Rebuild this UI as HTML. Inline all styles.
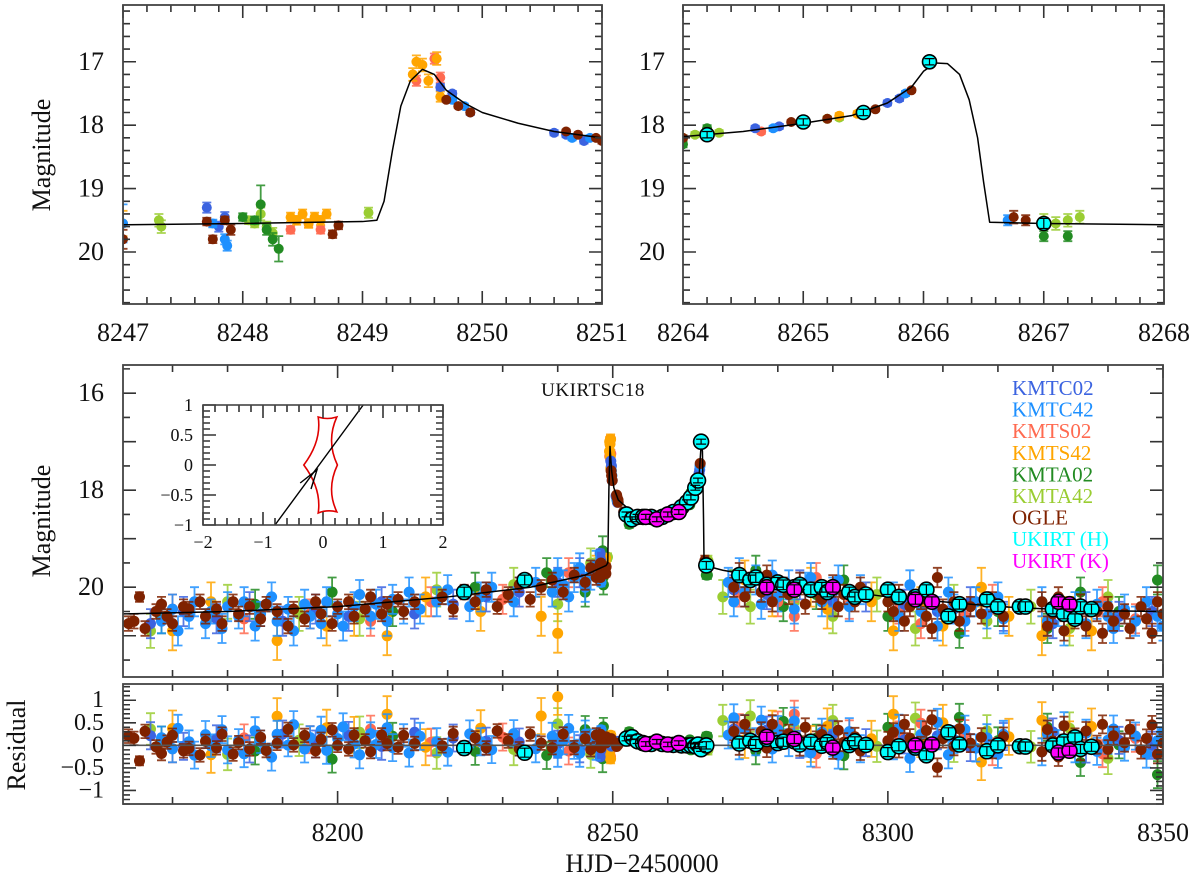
<!DOCTYPE html>
<html><head><meta charset="utf-8"><style>
html,body{margin:0;padding:0;background:#fff;}
svg{display:block;font-family:"Liberation Serif",serif;}
</style></head><body>
<svg id="chart" width="1200" height="880" xmlns="http://www.w3.org/2000/svg"></svg>
<script>
// ---------- DATA ----------
const seriesNames = ["KMTA42","KMTA02","KMTS02","KMTS42","KMTC02","KMTC42","OGLE","UKIRT (H)","UKIRT (K)"];
const legendOrder = ["KMTC02","KMTC42","KMTS02","KMTS42","KMTA02","KMTA42","OGLE","UKIRT (H)","UKIRT (K)"];
const seriesColors = {"KMTC02":"#3b63e0","KMTC42":"#1e90ff","KMTS02":"#ff6a50","KMTS42":"#ffa500","KMTA02":"#228b22","KMTA42":"#9acd32","OGLE":"#7f2200","UKIRT (H)":"#00ffff","UKIRT (K)":"#ff00ff"};

const kmtc02 = [[8166,20.75,.3],[8172,20.5,.3],[8178,20.65,.3],[8184,20.4,.3],[8190,20.7,.3],[8196,20.45,.3],[8202,20.6,.3],[8208,20.3,.3],[8214,20.55,.3],[8221,20.35,.3],[8227,20.2,.3],[8233,20.1,.3],[8240,19.9,.3],[8244,19.7,.3],
[8247.7,19.3,.08],[8247.8,19.6,.08],[8247.85,19.45,.08],[8249.65,17.4,.05],[8249.75,17.5,.04],[8249.9,17.8,.04],[8250.6,18.12,.04],[8250.7,18.15,.04],[8250.85,18.25,.04],[8264.6,18.05,.04],[8264.8,18.02,.04],[8265.7,17.65,.04],[8265.8,17.58,.04],
[8272,20.05,.3],[8278,20.15,.3],[8284,19.95,.3],[8290,20.3,.3],[8296,20.2,.3],[8303,20.35,.3],[8309,20.5,.3],[8315,20.3,.3],[8321,20.6,.3],[8330,20.75,.3],[8336,20.4,.3],[8342,20.6,.3],[8348,20.5,.3]];
const kmtc42 = [[8168,20.7,.25],[8170,20.45,.3],[8171,20.9,.3],[8173,20.6,.25],[8174,20.3,.3],[8176,20.75,.3],[8177,20.5,.25],[8179,20.85,.3],[8180,20.4,.3],[8182,20.6,.25],[8183,20.3,.3],[8185,20.8,.3],[8186,20.55,.25],[8188,20.2,.3],[8189,20.7,.3],[8191,20.45,.25],[8192,20.9,.3],[8194,20.35,.3],[8195,20.6,.25],[8197,20.75,.3],[8198,20.3,.3],[8200,20.55,.25],[8201,20.8,.3],[8203,20.4,.3],[8204,20.15,.3],[8206,20.6,.25],[8207,20.35,.3],[8209,20.7,.3],[8210,20.25,.3],[8212,20.5,.25],[8213,20.1,.3],[8215,20.45,.3],[8218,20.3,.3],[8220,20.05,.3],[8224,20.4,.3],[8226,20.2,.3],[8228,20.0,.3],[8232,20.3,.3],[8236,19.9,.3],[8239,20.1,.3],[8240,19.7,.3],[8241,19.95,.3],[8242,20.2,.3],[8243,19.8,.3],[8244,19.6,.3],[8245,20.0,.3],[8246,19.75,.3],[8247,19.55,.3],
[8247.75,19.55,.06],[8247.85,19.8,.08],[8247.87,19.9,.08],[8249.75,17.6,.05],[8249.85,17.7,.04],[8250.75,18.2,.04],[8250.9,18.2,.04],[8252,18.45,.06],[8254,18.55,.06],[8262,18.4,.06],[8264.75,18.05,.04],[8265.85,17.5,.04],[8266.7,19.5,.08],
[8271,19.9,.3],[8272,20.3,.3],[8273,19.7,.3],[8274,20.1,.3],[8276,19.85,.3],[8277,20.35,.3],[8279,19.75,.3],[8280,20.2,.3],[8282,19.95,.3],[8283,20.45,.3],[8285,20.0,.3],[8286,19.8,.3],[8288,20.3,.3],[8290,20.1,.3],[8291,19.85,.3],[8293,20.4,.3],[8295,20.05,.3],
[8301,20.2,.3],[8302,20.6,.3],[8304,19.95,.3],[8306,20.5,.3],[8307,20.25,.3],[8309,20.8,.3],[8311,20.1,.3],[8312,20.45,.3],[8314,20.7,.3],[8316,20.3,.3],[8318,20.55,.3],[8320,20.2,.3],[8321,20.65,.3],
[8328,20.3,.3],[8329,20.7,.3],[8331,20.5,.3],[8332,20.9,.3],[8334,20.4,.3],[8336,20.75,.3],[8338,20.35,.3],[8340,20.6,.3],[8341,20.85,.3],[8343,20.45,.3],[8345,20.7,.3],[8347,20.3,.3],[8349,20.6,.3],[8350,20.8,.3]];
const kmts02 = [[8170,20.45,.3],[8183,20.65,.3],[8195,20.55,.3],[8206,20.7,.3],[8217,20.3,.3],[8230,20.25,.3],[8242,19.7,.3],
[8248.4,19.65,.06],[8248.55,19.55,.06],[8248.65,19.65,.06],[8249.45,17.3,.08],[8249.6,16.95,.08],[8249.65,17.25,.08],[8264.65,18.1,.04],[8265.5,17.8,.04],
[8273,20.1,.3],[8280,20.3,.3],[8283,20.6,.3],[8287,19.8,.3],[8293,20.35,.3],[8302,20.45,.3],[8306,20.75,.3],[8314,20.6,.3],[8319,20.25,.3],[8332,20.55,.3],[8339,20.3,.3],[8345,20.65,.3]];
const kmts42 = [[8170,20.9,.4],[8177,20.3,.4],[8189,21.1,.4],[8198,20.8,.4],[8203,20.6,.4],[8209,21.0,.4],[8216,20.2,.4],[8226,20.5,.4],[8237,20.6,.4],[8240,20.95,.4],[8247,19.55,.2],
[8248.4,19.45,.07],[8248.45,19.5,.07],[8248.5,19.4,.07],[8248.55,19.55,.07],[8248.6,19.45,.07],[8248.65,19.5,.07],[8248.7,19.4,.07],[8249.42,17.2,.1],[8249.45,17.0,.1],[8249.5,17.05,.1],[8249.55,17.3,.1],[8249.62,16.95,.1],[8249.65,17.55,.08],[8265.3,17.85,.04],[8265.45,17.82,.04],
[8274,19.85,.4],[8279,20.2,.4],[8286,20.0,.4],[8289,20.45,.4],[8297,20.3,.4],[8301,20.9,.4],[8306,20.4,.4],[8310,20.8,.4],[8317,20.0,.4],[8322,20.6,.4],[8328,21.0,.4],[8333,20.6,.4],[8337,20.9,.4]];
const kmta02 = [[8168,20.65,.3],[8185,20.35,.3],[8199,20.1,.3],[8210,20.5,.3],[8225,20.0,.3],[8238,19.7,.3],[8245,20.1,.3],
[8248.0,19.45,.06],[8248.1,19.5,.06],[8248.15,19.25,.3],[8248.2,19.65,.08],[8248.25,19.8,.1],[8248.3,19.95,.2],[8253,18.7,.08],[8264.0,18.3,.05],[8264.2,18.05,.05],[8267.0,19.75,.08],[8267.2,19.75,.08],
[8272,19.95,.3],[8276,19.65,.3],[8281,20.4,.3],[8287,20.15,.3],[8292,19.85,.3],[8300,20.6,.3],[8307,20.25,.3],[8313,20.95,.3],[8320,20.5,.3],[8329,20.85,.3],[8335,20.1,.3],[8342,20.5,.3],[8349,19.85,.3]];
const kmta42 = [[8166,20.9,.35],[8180,20.3,.35],[8193,20.55,.35],[8204,20.65,.35],[8218,20.05,.35],[8232,19.95,.35],[8240,20.35,.35],[8246,19.5,.3],
[8247.3,19.5,.1],[8247.32,19.6,.1],[8248.05,19.5,.06],[8248.1,19.55,.06],[8248.15,19.4,.1],[8248.2,19.6,.08],[8248.25,19.7,.08],[8249.05,19.38,.08],[8264.0,18.2,.04],[8264.1,18.15,.04],[8264.3,18.12,.04],[8265.2,17.9,.04],[8265.3,17.88,.04],[8267.0,19.5,.1],[8267.1,19.55,.1],[8267.2,19.5,.1],[8267.3,19.45,.1],
[8270,20.2,.35],[8275,20.4,.35],[8283,20.3,.35],[8290,20.6,.35],[8298,20.15,.35],[8305,20.85,.35],[8312,20.3,.35],[8318,20.7,.35],[8326,20.4,.35],[8333,20.85,.35],[8340,20.2,.35]];
const ogle = [[8162,20.75,.15],[8163,20.7,.15],[8164,20.2,.1],[8165,20.85,.15],[8167,20.5,.15],[8168,20.35,.15],[8169,20.6,.15],[8170,20.75,.15],[8172,20.4,.15],[8173,20.45,.15],[8175,20.3,.15],[8176,20.6,.15],[8178,20.45,.15],[8179,20.75,.15],[8181,20.3,.15],[8182,20.55,.15],[8184,20.4,.15],[8186,20.65,.15],[8187,20.35,.15],[8189,20.5,.15],[8191,20.8,.15],[8192,20.45,.15],[8194,20.65,.15],[8196,20.3,.15],[8197,20.55,.15],[8199,20.75,.15],[8200,20.4,.15],[8202,20.3,.15],[8203,20.6,.15],[8205,20.45,.15],[8206,20.2,.15],[8208,20.55,.15],[8209,20.35,.15],[8211,20.25,.15],[8212,20.5,.15],[8214,20.3,.15],[8219,20.2,.15],[8221,20.45,.15],[8223,20.1,.15],[8225,20.3,.15],[8227,20.05,.15],[8229,20.4,.15],[8231,20.15,.15],[8233,19.95,.15],[8235,20.25,.15],[8237,20.0,.15],[8239,19.85,.15],[8241,20.1,.15],[8243,19.75,.15],[8245,19.9,.15],[8246,19.6,.15],[8247,19.8,.15],
[8247.7,19.52,.06],[8247.75,19.8,.06],[8247.85,19.5,.06],[8247.9,19.65,.08],[8248.75,19.72,.06],[8248.8,19.58,.06],[8249.7,17.6,.03],[8249.8,17.7,.03],[8249.9,17.8,.03],[8250.7,18.1,.03],[8250.8,18.15,.03],[8250.95,18.2,.03],
[8251,18.25,.04],[8252,18.45,.04],[8253,18.5,.04],[8254,18.55,.04],[8255,18.6,.04],[8256,18.55,.04],[8257,18.6,.04],[8258,18.55,.04],[8259,18.5,.04],[8260,18.5,.04],[8261,18.45,.04],[8262,18.4,.04],[8263,18.3,.04],[8264,18.2,.04],
[8264.9,17.95,.03],[8265.2,17.9,.03],[8265.6,17.75,.03],[8265.9,17.45,.03],[8266.75,19.45,.1],[8266.85,19.5,.08],
[8272,20.0,.2],[8273,19.7,.2],[8274,20.2,.2],[8275,19.9,.2],[8277,20.1,.2],[8278,19.75,.2],[8279,20.3,.2],[8281,20.0,.2],[8282,20.15,.2],[8284,19.9,.2],[8285,20.35,.2],[8287,20.1,.2],[8288,20.25,.2],[8290,19.95,.2],[8291,20.4,.2],[8292,20.15,.2],[8294,20.3,.2],[8295,20.0,.2],[8300,20.3,.2],[8301,20.5,.2],[8302,20.15,.2],[8303,20.7,.2],[8304,20.4,.2],[8306,20.25,.2],[8307,20.6,.2],[8308,20.85,.2],[8309,19.8,.2],[8310,20.45,.2],[8312,20.3,.2],[8313,20.7,.2],[8315,20.4,.2],[8317,20.55,.2],[8319,20.3,.2],[8321,20.6,.2],[8328,20.3,.2],[8329,20.8,.2],[8330,20.55,.2],[8331,20.2,.2],[8332,20.9,.2],[8333,20.45,.2],[8334,20.65,.2],[8335,20.35,.2],[8336,20.8,.2],[8338,20.5,.2],[8339,20.95,.2],[8340,20.4,.2],[8341,20.7,.2],[8343,20.55,.2],[8344,20.85,.2],[8346,20.4,.2],[8347,20.65,.2],[8348,20.95,.2],[8349,20.3,.2],[8350,20.55,.2]];
const ukirtH = [[8223,20.1,.1],[8234,19.85,.1],[8252.5,18.5,.05],[8253.5,18.6,.05],[8254.5,18.55,.05],[8255.5,18.55,.05],[8257,18.55,.05],[8259,18.55,.05],[8261,18.45,.05],[8262.5,18.35,.05],[8263.5,18.25,.05],[8264.2,18.15,.05],[8265,17.95,.05],[8265.5,17.8,.05],[8266.05,17.0,.05],[8267,19.55,.08],
[8273,19.75,.1],[8275,19.85,.1],[8276,19.8,.1],[8278,19.95,.1],[8280,19.9,.1],[8281,19.95,.1],[8283,20.0,.1],[8284,19.95,.1],[8286,20.05,.1],[8288,20.0,.1],[8289,20.1,.1],[8293,20.1,.1],[8294,20.2,.1],[8296,20.15,.1],[8300,20.05,.1],[8302,20.2,.1],[8305,20.2,.1],[8307,20.05,.1],[8311,20.6,.1],[8313,20.35,.1],[8318,20.25,.1],[8320,20.4,.1],[8324,20.4,.1],[8325,20.4,.1],[8330,20.45,.1],[8332,20.55,.1],[8334,20.65,.1],[8335,20.4,.1],[8337,20.45,.1]];
const ukirtK = [[8256,18.55,.05],[8258,18.6,.05],[8260,18.5,.05],[8262,18.45,.05],[8278,20.0,.1],[8283,20.05,.1],[8290,20.0,.1],[8305,20.25,.1],[8308,20.3,.1],[8331,20.3,.1],[8333,20.35,.1]];

// model curves
const modelT   = [8161,8180,8200,8220,8235,8245,8248.8,8249.1,8249.3,8249.5,8249.8,8250.2,8251,8253,8256,8259,8262,8264,8265,8265.7,8266.1,8266.3,8266.5,8266.6,8270,8280,8290,8300,8310,8320,8335,8350];
const modelMag = [20.55,20.5,20.4,20.2,20.0,19.75,19.55,19.5,18.0,17.1,17.6,17.95,18.2,18.4,18.52,18.52,18.4,18.2,18.0,17.7,17.0,17.2,18.6,19.55,19.65,19.85,20.05,20.2,20.3,20.4,20.48,20.5];
const zoomAModelT   = [8247,8248,8249,8249.12,8249.18,8249.25,8249.32,8249.4,8249.5,8249.6,8249.7,8249.85,8250,8250.3,8250.6,8251];
const zoomAModelMag = [19.57,19.55,19.52,19.5,19.2,18.4,17.7,17.3,17.12,17.2,17.45,17.65,17.8,17.97,18.1,18.2];
const zoomBModelT   = [8264,8264.5,8265,8265.4,8265.7,8265.9,8266.0,8266.1,8266.2,8266.3,8266.38,8266.45,8266.5,8266.55,8267,8268];
const zoomBModelMag = [18.18,18.1,17.97,17.85,17.65,17.4,17.15,17.02,17.03,17.2,17.6,18.2,18.9,19.53,19.55,19.57];

// axis tick labels
const mainXTicks = [8200,8250,8300,8350];
const mainYTicks = [16,18,20];
const resYTicks = [1,0.5,0,-0.5,-1];
const zoomAXTicks = [8247,8248,8249,8250,8251];
const zoomBXTicks = [8264,8265,8266,8267,8268];
const zoomYTicks = [17,18,19,20];
const insetXTicks = [-2,-1,0,1,2];
const insetYTicks = [1,0.5,0,-0.5,-1];

const seriesData = {"KMTA42":kmta42,"KMTA02":kmta02,"KMTS02":kmts02,"KMTS42":kmts42,"KMTC02":kmtc02,"KMTC42":kmtc42,"OGLE":ogle,"UKIRT (H)":ukirtH,"UKIRT (K)":ukirtK};

// ---------- HELPERS ----------
const NS = "http://www.w3.org/2000/svg";
const svg = document.getElementById("chart");
function mk(tag, attrs, parent){
  const e = document.createElementNS(NS, tag);
  for (const k in attrs) e.setAttribute(k, attrs[k]);
  (parent||svg).appendChild(e);
  return e;
}
function interp(ts, ms, t){
  if (t <= ts[0]) return ms[0];
  for (let i=1;i<ts.length;i++){ if (t <= ts[i]) { const f=(t-ts[i-1])/(ts[i]-ts[i-1]); return ms[i-1]+f*(ms[i]-ms[i-1]); } }
  return ms[ms.length-1];
}
function modelAt(t){
  if (t>=8247 && t<=8251) return interp(zoomAModelT, zoomAModelMag, t);
  if (t>=8264 && t<=8268) return interp(zoomBModelT, zoomBModelMag, t);
  return interp(modelT, modelMag, t);
}
function slug(s){ return s.toLowerCase().replace(/[^a-z0-9]+/g,'-').replace(/-$/,''); }

const panels = {
  zoomA:{x0:123,x1:602,y0:5,y1:304,tMin:8247,tMax:8251,mMin:16.105,mMax:20.82},
  zoomB:{x0:683,x1:1164,y0:5,y1:304,tMin:8264,tMax:8268,mMin:16.105,mMax:20.82},
  main:{x0:123,x1:1163,y0:365,y1:677,tMin:8161,tMax:8350,mMin:15.42,mMax:21.85},
  resid:{x0:123,x1:1163,y0:684,y1:804,tMin:8161,tMax:8350,mMin:1.36,mMax:-1.3}
};
function sx(p,t){ return p.x0 + (t-p.tMin)/(p.tMax-p.tMin)*(p.x1-p.x0); }
function sy(p,m){ return p.y0 + (m-p.mMin)/(p.mMax-p.mMin)*(p.y1-p.y0); }

const defs = mk("defs",{});
for (const k in panels){
  const p = panels[k];
  const cp = mk("clipPath",{id:"clip-"+k},defs);
  mk("rect",{x:p.x0,y:p.y0,width:p.x1-p.x0,height:p.y1-p.y0},cp);
}

function drawTicks(p, g, xMajor, xMinor, yMajor, yMinor){
  let d = "";
  const span=(a,b,s)=>{const r=[];for(let v=Math.ceil(a/s-1e-9)*s; v<=b+1e-9; v+=s) r.push(v); return r;};
  const tLo=Math.min(p.tMin,p.tMax), tHi=Math.max(p.tMin,p.tMax);
  span(tLo,tHi,xMinor).forEach(v=>{ const x=sx(p,v); const isMaj=Math.abs(v/xMajor-Math.round(v/xMajor))<1e-6; const L=isMaj?13:7;
    d+=`M${x},${p.y1}v${-L}M${x},${p.y0}v${L}`; });
  const mLo=Math.min(p.mMin,p.mMax), mHi=Math.max(p.mMin,p.mMax);
  span(mLo,mHi,yMinor).forEach(v=>{ const y=sy(p,v); const isMaj=Math.abs(v/yMajor-Math.round(v/yMajor))<1e-6; const L=isMaj?13:7;
    d+=`M${p.x0},${y}h${L}M${p.x1},${y}h${-L}`; });
  const t = mk("path",{d:d,stroke:"#333","stroke-width":1.6,fill:"none"},g);
  
  
}
function frame(p,g,name){
  const r = mk("rect",{x:p.x0,y:p.y0,width:p.x1-p.x0,height:p.y1-p.y0,fill:"none",stroke:"#444","stroke-width":1.8},g);
  
  
}
function drawModel(key,p,g,ts,ms){
  let d="";
  for (let i=0;i<ts.length;i++){ d+=(i?"L":"M")+sx(p,ts[i]).toFixed(2)+","+sy(p,ms[i]).toFixed(2); }
  const a = mk("path",{d:d,stroke:"#000","stroke-width":1.5,fill:"none","stroke-linejoin":"round","clip-path":`url(#clip-${key})`},g);
  
  
}
function drawPoints(p,key,g,name,resid,rad){
  const col = seriesColors[name];
  const isUk = name.startsWith("UKIRT");
  const grp = mk("g",{"clip-path":`url(#clip-${key})`},g);
  
  
  const data = seriesData[name];
  let ed="";
  const pts=[];
  data.forEach(([t,m,e])=>{
    if (t<p.tMin-0.5 || t>p.tMax+0.5) return;
    const v = resid ? (m-modelAt(t)) : m;
    const x=sx(p,t), y=sy(p,v);
    const y1=sy(p,v-e), y2=sy(p,v+e);
    const cw=isUk?5:4.5;
    ed+=`M${x.toFixed(1)},${y1.toFixed(1)}V${y2.toFixed(1)}M${(x-cw).toFixed(1)},${y1.toFixed(1)}h${2*cw}M${(x-cw).toFixed(1)},${y2.toFixed(1)}h${2*cw}`;
    pts.push([x,y]);
  });
  const eb = mk("path",{d:ed,stroke:isUk?"#000":col,"stroke-width":1.8,fill:"none",opacity:isUk?1:0.85},grp);
  
  
  pts.forEach(([x,y])=>{
    const c = mk("circle",{cx:x.toFixed(1),cy:y.toFixed(1),r:isUk?rad+2:rad,fill:col,stroke:isUk?"#000":"none","stroke-width":isUk?1.6:0},grp);
    
    
  });
  if (isUk){
    const eb2 = mk("path",{d:ed,stroke:"#000","stroke-width":1.2,fill:"none"},grp);
    
    
  }
}
function label(x,y,txt,size,anchor,name,extra){
  const t = mk("text",Object.assign({x:x,y:y,"font-size":size,"text-anchor":anchor||"middle",fill:"#111"},extra||{}));
  t.textContent = txt;
  
  
  return t;
}

function buildPanel(key, opts){
  const p = panels[key];
  const g = mk("g",{});
  
  
  const order = ["KMTA42","KMTA02","KMTS02","KMTS42","KMTC02","KMTC42","OGLE"];
  order.forEach(n=>drawPoints(p,key,g,n,opts.resid,opts.rad));
  if (opts.resid){
    const z = mk("line",{x1:p.x0,x2:p.x1,y1:sy(p,0),y2:sy(p,0),stroke:"#555","stroke-width":1.6},g);
    
    
  } else {
    drawModel(key,p,g,opts.mt,opts.mm);
  }
  drawPoints(p,key,g,"UKIRT (H)",opts.resid,opts.rad);
  drawPoints(p,key,g,"UKIRT (K)",opts.resid,opts.rad);
  drawTicks(p,g,opts.xMaj,opts.xMin,opts.yMaj,opts.yMin);
  frame(p,g,key+'-frame');
  return g;
}
buildPanel("zoomA",{mt:zoomAModelT,mm:zoomAModelMag,xMaj:1,xMin:0.2,yMaj:1,yMin:0.2,rad:5});
buildPanel("zoomB",{mt:zoomBModelT,mm:zoomBModelMag,xMaj:1,xMin:0.2,yMaj:1,yMin:0.2,rad:5});
buildPanel("main",{mt:modelT,mm:modelMag,xMaj:50,xMin:10,yMaj:1,yMin:0.5,rad:5.5});
buildPanel("resid",{resid:true,xMaj:50,xMin:10,yMaj:0.5,yMin:0.1,rad:5.5});

zoomAXTicks.forEach(v=>label(sx(panels.zoomA,v),341,String(v),26,"middle","x-tick-label-zoom-a"));
zoomBXTicks.forEach(v=>label(sx(panels.zoomB,v),341,String(v),26,"middle","x-tick-label-zoom-b"));
zoomYTicks.forEach(v=>{ label(104,sy(panels.zoomA,v)+8,String(v),26,"end","y-tick-label-zoom-a"); label(665,sy(panels.zoomB,v)+8,String(v),26,"end","y-tick-label-zoom-b"); });
mainYTicks.forEach(v=>label(104,sy(panels.main,v)+8,String(v),26,"end","y-tick-label-main"));
resYTicks.forEach(v=>label(104,sy(panels.resid,v)+7,v<0?"\u2212"+String(-v):String(v),24,"end","y-tick-label-residual"));
mainXTicks.forEach(v=>label(sx(panels.main,v),841,String(v),26,"middle","x-tick-label-main"));

label(0,0,"Magnitude",26,"middle","y-axis-title-zoom",{transform:"translate(50,155) rotate(-90)"});
label(0,0,"Magnitude",26,"middle","y-axis-title-main",{transform:"translate(50,521) rotate(-90)"});
label(0,0,"Residual",26,"middle","y-axis-title-residual",{transform:"translate(25,745) rotate(-90)"});
label(642,872,"HJD\u22122450000",26,"middle","x-axis-title");
label(593,396,"UKIRTSC18",19,"middle","event-name",{"letter-spacing":"0.5"});

const lg = mk("g",{});


legendOrder.forEach((n,i)=>{
  const t = mk("text",{x:1012,y:395+i*21.6,"font-size":21,fill:seriesColors[n]},lg);
  t.textContent = n;
  
  
});

const inset = {x0:203,x1:443,y0:405,y1:525,tMin:-2,tMax:2,mMin:1,mMax:-1};
const ig = mk("g",{});


mk("rect",{x:inset.x0,y:inset.y0,width:240,height:120,fill:"#fff"},ig);
const cx = v=>sx(inset,v), cy = v=>sy(inset,v);
const caus = `M${cx(-0.08)},${cy(0.8)} Q${cx(-0.02)},${cy(0.4)} ${cx(-0.32)},${cy(0)} Q${cx(-0.02)},${cy(-0.4)} ${cx(-0.08)},${cy(-0.8)} Q${cx(0.07)},${cy(-0.74)} ${cx(0.23)},${cy(-0.78)} Q${cx(0.05)},${cy(-0.4)} ${cx(0.24)},${cy(0)} Q${cx(0.05)},${cy(0.4)} ${cx(0.23)},${cy(0.8)} Q${cx(0.07)},${cy(0.75)} ${cx(-0.08)},${cy(0.8)}Z`;
const ce = mk("path",{d:caus,fill:"none",stroke:"#e00000","stroke-width":1.6},ig);


const tr = mk("line",{x1:cx(-0.8),y1:cy(-1),x2:cx(0.67),y2:cy(1),stroke:"#000","stroke-width":1.4},ig);


const ar = mk("path",{d:`M${cx(-0.38)},${cy(-0.3)}L${cx(-0.1)},${cy(-0.08)}L${cx(-0.2)},${cy(-0.4)}`,stroke:"#000","stroke-width":1.4,fill:"none"},ig);


drawTicks(inset,ig,1,0.2,0.5,0.1);
const ifr = mk("rect",{x:inset.x0,y:inset.y0,width:240,height:120,fill:"none",stroke:"#444","stroke-width":1.6},ig);


insetXTicks.forEach(v=>label(sx(inset,v),548,v<0?"\u2212"+(-v):String(v),18,"middle","inset-x-tick-label"));
insetYTicks.forEach(v=>label(193,sy(inset,v)+6,v<0?"\u2212"+(-v):String(v),18,"end","inset-y-tick-label"));
</script>
</body></html>
